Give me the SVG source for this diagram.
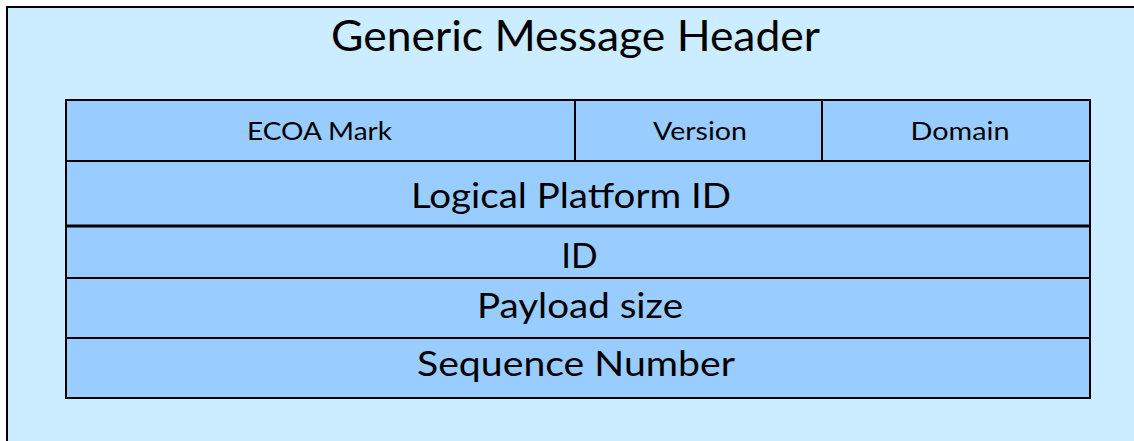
<svg xmlns="http://www.w3.org/2000/svg" width="1134" height="441" viewBox="0 0 1134 441">
<style>
.cell{fill:#99CCFF;stroke:#000;stroke-width:2}
.t{font-family:Lato,"Open Sans","Liberation Sans",sans-serif;fill:#000;text-anchor:middle}
.s{font-size:25px}
.m{font-size:35px}
</style>
<rect id="outer" x="7" y="7" width="1140" height="450" fill="#CCECFF" stroke="#000" stroke-width="2"/>
<text class="t" x="575.5" y="51" font-size="42" textLength="489" lengthAdjust="spacingAndGlyphs">Generic Message Header</text>
<g id="ecoa"><rect class="cell" x="66" y="100" width="509" height="61"/><text class="t s" x="319.5" y="140" textLength="145" lengthAdjust="spacingAndGlyphs">ECOA Mark</text></g>
<g id="version"><rect class="cell" x="575" y="100" width="247" height="61"/><text class="t s" x="700" y="140" textLength="94" lengthAdjust="spacingAndGlyphs">Version</text></g>
<g id="domain"><rect class="cell" x="822" y="100" width="268" height="61"/><text class="t s" x="960" y="140" textLength="99" lengthAdjust="spacingAndGlyphs">Domain</text></g>
<g id="lpid"><rect class="cell" x="66" y="161" width="1024" height="65"/><text class="t m" x="571" y="208" textLength="320" lengthAdjust="spacingAndGlyphs">Logical Platform ID</text></g>
<g id="id"><rect class="cell" x="66" y="226" width="1024" height="52"/><text class="t m" x="579.5" y="268">ID</text></g>
<g id="payload"><rect class="cell" x="66" y="278" width="1024" height="60"/><text class="t m" x="580" y="318" textLength="206" lengthAdjust="spacingAndGlyphs">Payload size</text></g>
<g id="seq"><rect class="cell" x="66" y="338" width="1024" height="60"/><text class="t m" x="576" y="376" textLength="318" lengthAdjust="spacingAndGlyphs">Sequence Number</text></g>
<g id="connectors"><line x1="66" y1="226" x2="1090" y2="226" stroke="#000" stroke-width="3"/></g>
</svg>
